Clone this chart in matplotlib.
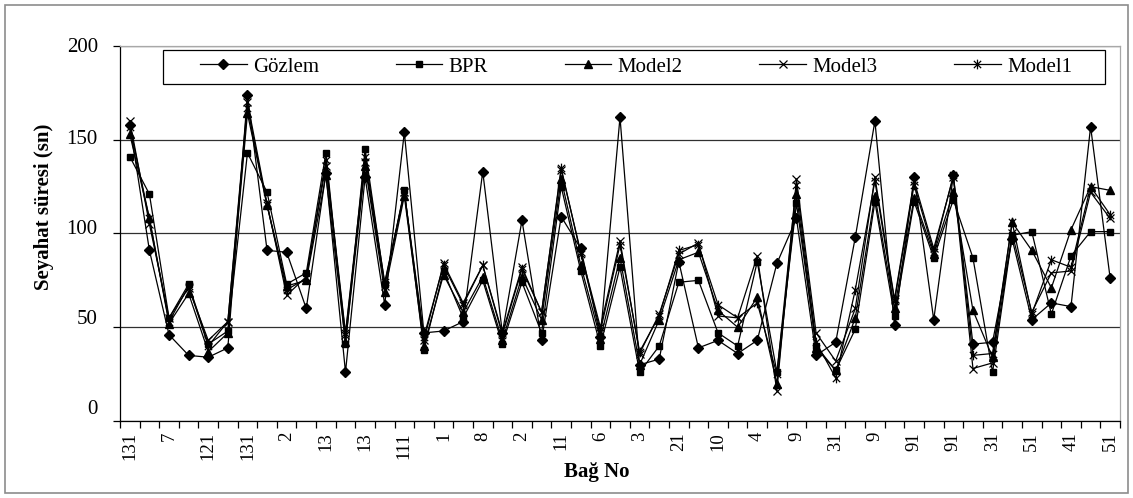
import matplotlib
matplotlib.use("Agg")
import matplotlib.pyplot as plt
from matplotlib.path import Path
from matplotlib.patches import Rectangle
from matplotlib.transforms import ScaledTranslation
import numpy as np

plt.rcParams['font.family'] = ['Liberation Serif', 'DejaVu Serif']

# Link labels shown on the category axis (every second link is labelled)
tick_labels = ['131', '7', '121', '131', '2', '13', '13', '111', '1', '8', '2', '11', '6',
               '3', '21', '10', '4', '9', '31', '9', '91', '91', '31', '51', '41', '51']

# Travel times (s) per link
gozlem = [158, 91, 46, 35, 34, 39, 174, 91, 90, 60, 132, 26, 130, 62, 154, 47, 48, 53, 133, 47,
          107, 43, 109, 92, 45, 162, 30, 33, 85, 39, 43, 36, 43, 84, 108, 35, 42, 98, 160, 51,
          130, 54, 131, 41, 42, 97, 54, 63, 61, 157, 76]
bpr = [141, 121, 55, 73, 41, 48, 143, 122, 73, 79, 143, 41, 145, 73, 123, 38, 80, 55, 75, 41,
       74, 47, 125, 80, 40, 82, 26, 40, 74, 75, 47, 40, 85, 26, 116, 40, 27, 49, 117, 56,
       117, 87, 118, 87, 26, 99, 101, 57, 88, 101, 101]
model2 = [153, 108, 52, 68, 37, 47, 164, 115, 72, 75, 131, 42, 136, 69, 120, 40, 78, 58, 77, 43,
          77, 54, 129, 83, 44, 87, 30, 54, 86, 90, 59, 50, 66, 20, 121, 39, 27, 55, 120, 60,
          119, 89, 122, 59, 34, 106, 91, 71, 102, 125, 123]
model3 = [160, 105, 55, 71, 43, 53, 170, 116, 67, 77, 136, 46, 138, 72, 122, 43, 84, 63, 83, 47,
          82, 58, 134, 90, 50, 96, 36, 57, 89, 95, 56, 55, 88, 16, 129, 47, 32, 60, 130, 65,
          128, 92, 130, 28, 31, 100, 58, 79, 80, 122, 108]
model1 = [157, 108, 53, 72, 40, 53, 167, 115, 70, 76, 139, 47, 141, 74, 122, 45, 83, 62, 83, 46,
          81, 58, 135, 89, 48, 94, 37, 56, 91, 94, 62, 55, 63, 25, 126, 42, 23, 70, 128, 64,
          126, 90, 131, 35, 36, 106, 57, 86, 82, 125, 110]

y_ticks = [0, 50, 100, 150, 200]

# Asterisk marker: an x with a vertical bar through it
star_path = Path([(0, -1), (0, 1), (-0.75, -0.75), (0.75, 0.75), (-0.75, 0.75), (0.75, -0.75)],
                 [Path.MOVETO, Path.LINETO, Path.MOVETO, Path.LINETO, Path.MOVETO, Path.LINETO])

fig = plt.figure(figsize=(11.33, 4.98), dpi=100)
ax = fig.add_axes([120 / 1133, 77 / 498, 1000 / 1133, 375 / 498])

n = len(gozlem)
x = np.arange(n)
lw = 0.9
ax.plot(x, gozlem, color='black', lw=lw, marker='D', ms=5.5, mfc='black', mec='black', label='Gözlem', zorder=5)
ax.plot(x, bpr, color='black', lw=lw, marker='s', ms=5, mfc='black', mec='black', label='BPR', zorder=4)
ax.plot(x, model2, color='black', lw=lw, marker='^', ms=6, mfc='black', mec='black', label='Model2', zorder=4)
ax.plot(x, model3, color='black', lw=lw, marker='x', ms=6, mew=0.9, mec='black', label='Model3', zorder=3)
ax.plot(x, model1, color='black', lw=lw, marker=star_path, ms=7, mew=0.9, mec='black', label='Model1', zorder=3)

ax.set_xlim(-0.5, n - 0.5)
ax.set_ylim(0, 200)

# y axis
ax.set_yticks(y_ticks)
ax.tick_params(axis='y', direction='out', length=5, width=0.9, labelsize=15, pad=11)
ax.yaxis.grid(True, color='#303030', lw=0.9)
ax.set_axisbelow(True)
# value labels sit a little above their gridlines, more so towards the bottom
for lab, shift in zip(ax.get_yticklabels(), [14, 10, 7, 3, 1]):
    lab.set_transform(lab.get_transform() + ScaledTranslation(0, shift / 100, fig.dpi_scale_trans))

# category axis: tick marks between categories, labels on every second category
ax.set_xticks(np.arange(-0.5, n, 1.0), minor=True)
ax.set_xticks(np.arange(0, n, 2))
ax.set_xticklabels(tick_labels, rotation=90)
ax.tick_params(axis='x', which='major', length=0, labelsize=13.5, pad=8)
ax.tick_params(axis='x', which='minor', direction='out', length=5, width=0.9)

for side in ('left', 'bottom'):
    ax.spines[side].set_color('black')
    ax.spines[side].set_linewidth(0.9)
for side in ('top', 'right'):
    ax.spines[side].set_color('#a8a8a8')
    ax.spines[side].set_linewidth(0.9)

ax.set_ylabel('Seyahat süresi (sn)', fontsize=15, fontweight='bold')
ax.yaxis.set_label_coords(-0.066, 0.57)
ax.set_xlabel('Bağ No', fontsize=15, fontweight='bold')
ax.xaxis.set_label_coords(0.477, -0.108)

# legend box, with the entries spread evenly inside it
ax.add_patch(Rectangle((0.043, 0.899), 0.942, 0.09, transform=ax.transAxes,
                       facecolor='white', edgecolor='black', lw=0.9, zorder=6, clip_on=False))
leg = ax.legend(loc='center', ncol=5, mode='expand',
                bbox_to_anchor=(0.08, 0.899, 0.872, 0.09),
                fontsize=15, frameon=False, handlelength=2.25,
                borderaxespad=0, borderpad=0, handletextpad=0.3, columnspacing=1.0)
leg.set_zorder(7)

# outer chart border
fig.patches.append(Rectangle((5 / 1133, 5 / 498), 1123 / 1133, 488 / 498, transform=fig.transFigure,
                             fill=False, edgecolor='#8c8c8c', lw=1.2))

fig.savefig('out.png', dpi=100)
